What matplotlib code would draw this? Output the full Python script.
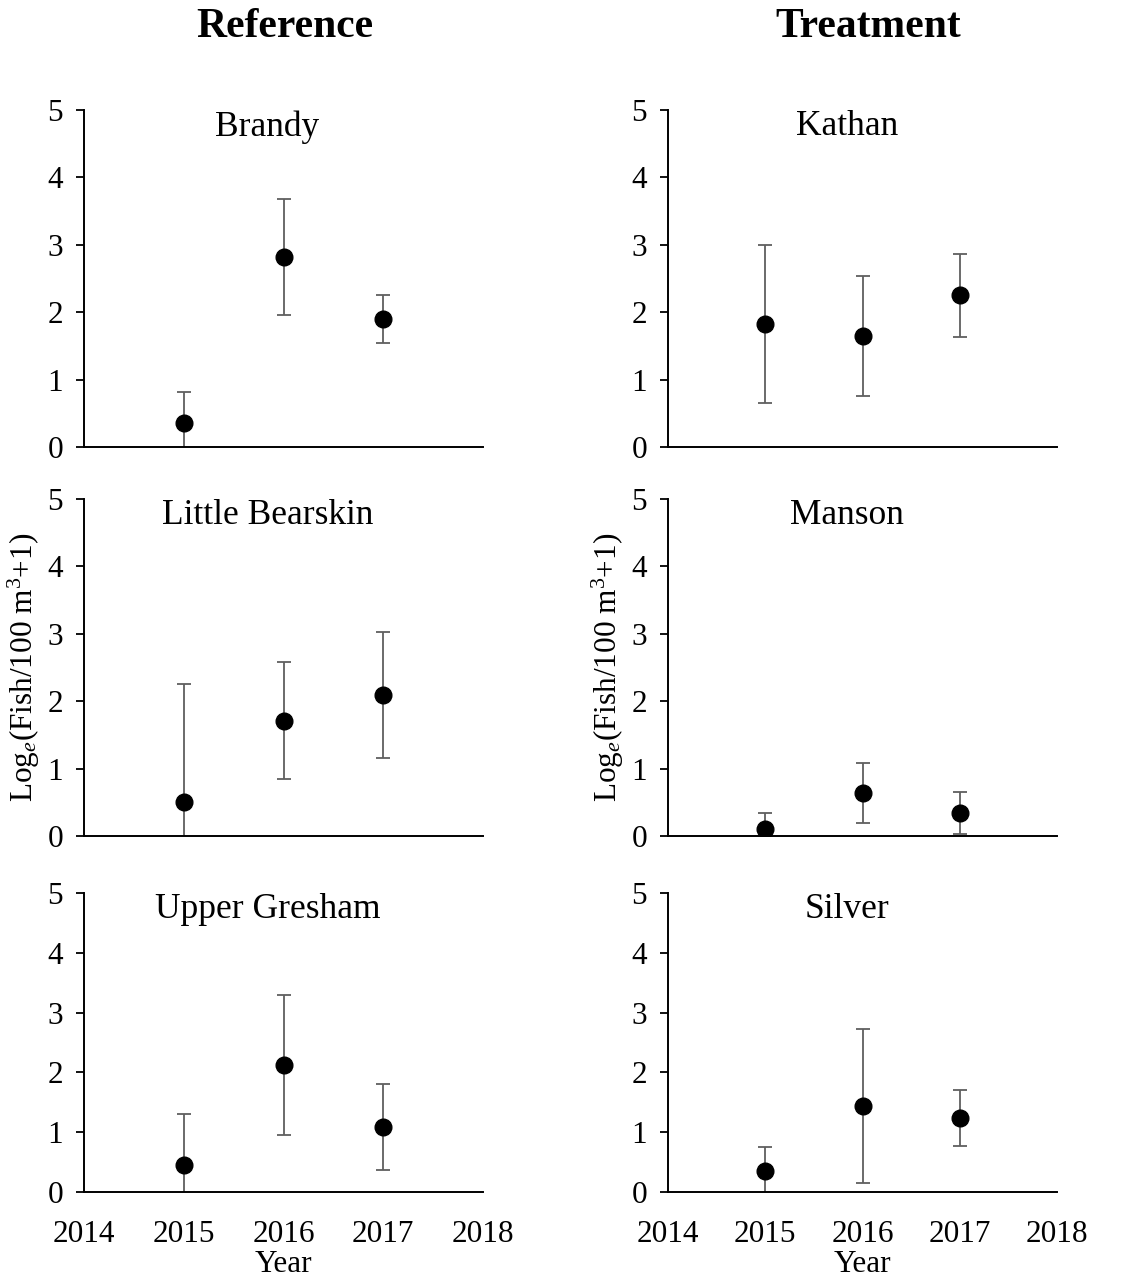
import matplotlib

matplotlib.use('Agg')
import matplotlib.pyplot as plt

# --- Данные ---
YEARS = [2015, 2016, 2017]
X_TICKS = [2014, 2015, 2016, 2017, 2018]

BRANDY_MEAN = [0.35, 2.82, 1.90]
BRANDY_ERR = [0.46, 0.86, 0.36]
BEARSKIN_MEAN = [0.50, 1.71, 2.09]
BEARSKIN_ERR = [1.75, 0.87, 0.94]
GRESHAM_MEAN = [0.45, 2.13, 1.09]
GRESHAM_ERR = [0.85, 1.17, 0.72]

KATHAN_MEAN = [1.82, 1.65, 2.25]
KATHAN_ERR = [1.17, 0.89, 0.62]
MANSON_MEAN = [0.10, 0.64, 0.34]
MANSON_ERR = [0.24, 0.45, 0.31]
SILVER_MEAN = [0.35, 1.44, 1.24]
SILVER_ERR = [0.40, 1.29, 0.47]

# --- Шрифты ---
TICK_FONTSIZE = 22.5
TITLE_FONTSIZE = 25.5
HEADER_FONTSIZE = 30

plt.rcParams['font.family'] = ['Liberation Serif', 'DejaVu Serif']
plt.rcParams['mathtext.fontset'] = 'custom'
plt.rcParams['mathtext.rm'] = 'Liberation Serif'
plt.rcParams['mathtext.it'] = 'Liberation Serif:italic'

fig = plt.figure(figsize=(11.43, 12.8), dpi=100)

W, H = 1143.0, 1280.0
cols = [(84, 483), (668, 1057)]
rows = [(110, 447), (499, 836), (893, 1192)]

panels = [
    [("Brandy", BRANDY_MEAN, BRANDY_ERR), ("Kathan", KATHAN_MEAN, KATHAN_ERR)],
    [("Little Bearskin", BEARSKIN_MEAN, BEARSKIN_ERR), ("Manson", MANSON_MEAN, MANSON_ERR)],
    [("Upper Gresham", GRESHAM_MEAN, GRESHAM_ERR), ("Silver", SILVER_MEAN, SILVER_ERR)],
]

for r, (y0, y1) in enumerate(rows):
    for c, (x0, x1) in enumerate(cols):
        name, mean, err = panels[r][c]
        ax = fig.add_axes([x0 / W, 1 - y1 / H, (x1 - x0) / W, (y1 - y0) / H])
        ax.errorbar(YEARS, mean, yerr=err, fmt='none', ecolor='#5f5f5f',
                    elinewidth=1.3, capsize=5, capthick=1.3, zorder=2)
        ax.plot(YEARS, mean, 'o', color='black', markersize=12, zorder=3)

        ax.set_xlim(2014, 2018)
        ax.set_ylim(0, 5)
        ax.set_yticks([0, 1, 2, 3, 4, 5])
        ax.spines['top'].set_visible(False)
        ax.spines['right'].set_visible(False)
        ax.spines['left'].set_linewidth(1.4)
        ax.spines['bottom'].set_linewidth(1.4)
        ax.tick_params(axis='y', direction='out', length=6, width=1.3,
                       labelsize=TICK_FONTSIZE, pad=9)
        ax.tick_params(axis='x', length=0, labelsize=TICK_FONTSIZE, pad=20)

        if r == 2:
            ax.set_xticks(X_TICKS)
            ax.set_xlabel("Year", fontsize=TICK_FONTSIZE, labelpad=1)
        else:
            ax.set_xticks([])

        if r == 1:
            ax.set_ylabel(r"Log$_{\mathit{e}}$(Fish/100 m$^{3}$+1)",
                          fontsize=TICK_FONTSIZE, labelpad=4)

        ax.text(0.46, 1.0, name, transform=ax.transAxes, ha='center', va='top',
                fontsize=TITLE_FONTSIZE)

fig.text(285 / W, 1 - 27 / H, "Reference", ha='center', va='center',
         fontsize=HEADER_FONTSIZE, fontweight='bold')
fig.text(868 / W, 1 - 27 / H, "Treatment", ha='center', va='center',
         fontsize=HEADER_FONTSIZE, fontweight='bold')

plt.savefig("out.png", dpi=100)
plt.close()
